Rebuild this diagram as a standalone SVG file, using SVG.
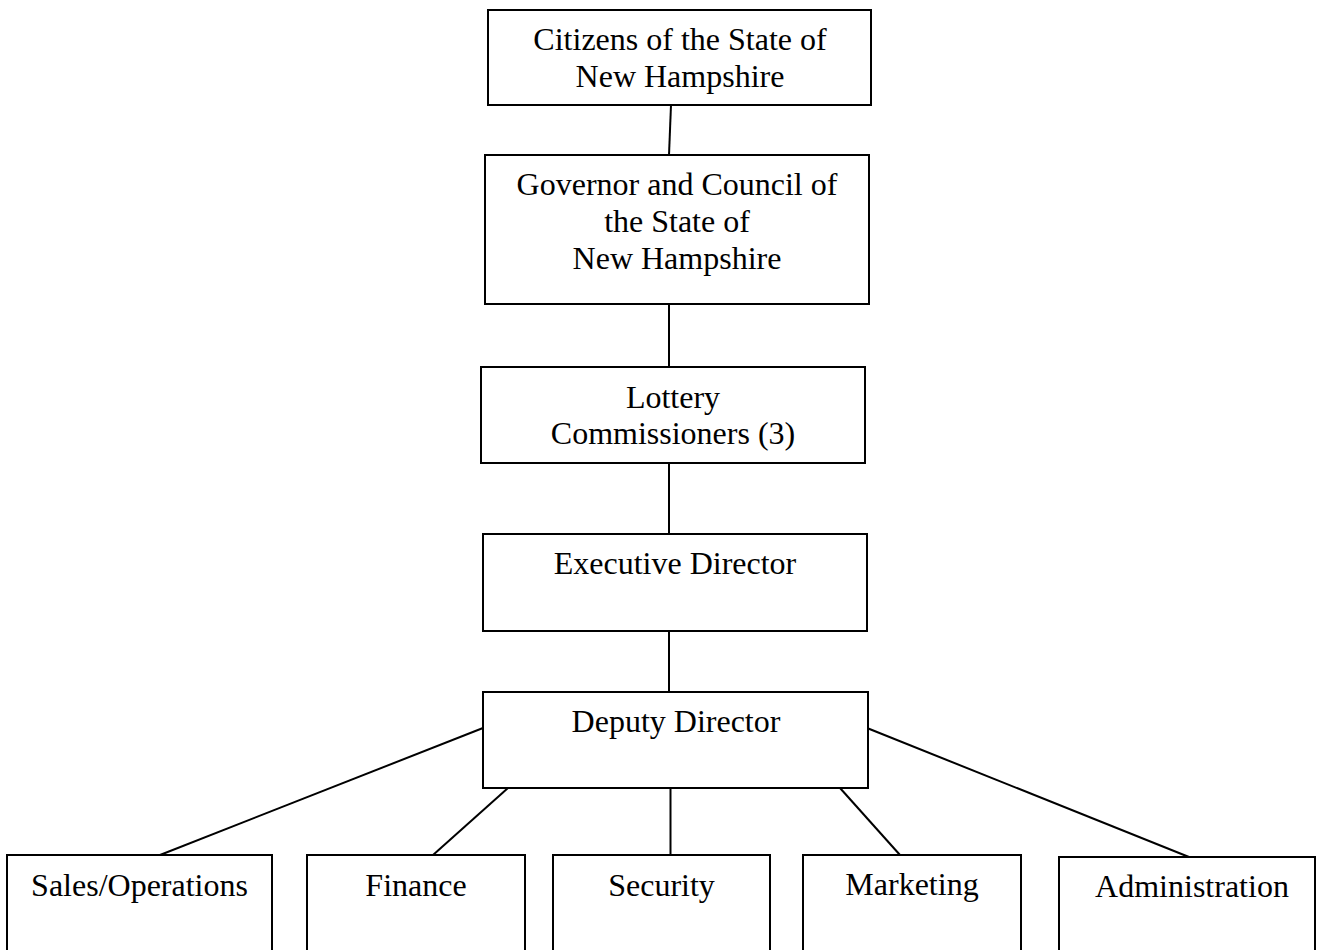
<svg xmlns="http://www.w3.org/2000/svg" width="1325" height="950" viewBox="0 0 1325 950">
<style>
rect.box{fill:#fff;stroke:#000;stroke-width:2}
.c line{stroke:#000;stroke-width:2}
text{font-family:"Liberation Serif","Times New Roman",serif;font-size:32px;fill:#000;text-anchor:middle}
</style>
<rect width="1325" height="950" fill="#fff"/>
<g id="connectors" class="c">
<line x1="671" y1="105" x2="669" y2="155"/>
<line x1="669" y1="304" x2="669" y2="367"/>
<line x1="669" y1="463" x2="669" y2="534"/>
<line x1="669" y1="631" x2="669" y2="692"/>
<line x1="483" y1="728" x2="160" y2="855"/>
<line x1="508" y1="788" x2="433" y2="855"/>
<line x1="670.5" y1="788" x2="670.5" y2="855"/>
<line x1="840" y1="788" x2="900" y2="855"/>
<line x1="867" y1="728" x2="1189" y2="857"/>
</g>
<g id="citizens">
<rect class="box" x="488" y="10" width="383" height="95"/>
<text x="680" y="50">Citizens of the State of</text>
<text x="680" y="87">New Hampshire</text>
</g>
<g id="governor">
<rect class="box" x="485" y="155" width="384" height="149"/>
<text x="677" y="195">Governor and Council of</text>
<text x="677" y="232">the State of</text>
<text x="677" y="269">New Hampshire</text>
</g>
<g id="commissioners">
<rect class="box" x="481" y="367" width="384" height="96"/>
<text x="673" y="408">Lottery</text>
<text x="673" y="444">Commissioners (3)</text>
</g>
<g id="executive">
<rect class="box" x="483" y="534" width="384" height="97"/>
<text x="675" y="574">Executive Director</text>
</g>
<g id="deputy">
<rect class="box" x="483" y="692" width="385" height="96"/>
<text x="676" y="732">Deputy Director</text>
</g>
<g id="sales">
<rect class="box" x="7" y="855" width="265" height="110"/>
<text x="139.5" y="896">Sales/Operations</text>
</g>
<g id="finance">
<rect class="box" x="307" y="855" width="218" height="110"/>
<text x="416" y="896">Finance</text>
</g>
<g id="security">
<rect class="box" x="553" y="855" width="217" height="110"/>
<text x="661.5" y="896">Security</text>
</g>
<g id="marketing">
<rect class="box" x="803" y="855" width="218" height="110"/>
<text x="912" y="895">Marketing</text>
</g>
<g id="administration">
<rect class="box" x="1059" y="857" width="256" height="110"/>
<text x="1192" y="897">Administration</text>
</g>
</svg>
